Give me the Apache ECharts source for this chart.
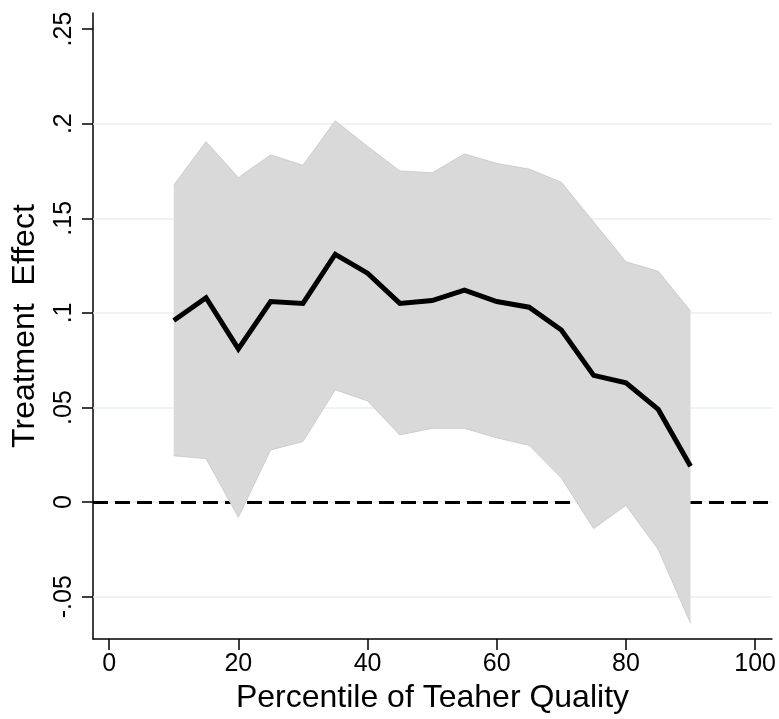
<!DOCTYPE html>
<html>
<head>
<meta charset="utf-8">
<script src="https://cdn.jsdelivr.net/npm/echarts@6/dist/echarts.min.js"></script>
<style>
  html, body { margin: 0; padding: 0; background: #fff; }
  #main { width: 779px; height: 719px; }
</style>
</head>
<body>
<div id="main"></div>
<script>
// percentile points
const xs = [10, 15, 20, 25, 30, 35, 40, 45, 50, 55, 60, 65, 70, 75, 80, 85, 90]
// point estimate
const est = [0.096, 0.108, 0.081, 0.106, 0.105, 0.131, 0.121, 0.105, 0.1065, 0.112, 0.106, 0.103, 0.091, 0.067, 0.063, 0.049, 0.019]
// confidence band
const upper = [0.1675, 0.1905, 0.1715, 0.1835, 0.178, 0.2015, 0.188, 0.175, 0.174, 0.184, 0.179, 0.176, 0.169, 0.148, 0.127, 0.122, 0.101]
const lower = [0.0245, 0.023, -0.008, 0.0276, 0.032, 0.0594, 0.0535, 0.0355, 0.039, 0.039, 0.034, 0.030, 0.0128, -0.014, -0.0017, -0.025, -0.064]
// axis ticks
const xTicks = [0, 20, 40, 60, 80, 100]
const yTicks = [-0.05, 0, 0.05, 0.1, 0.15, 0.2, 0.25]
const yTickLabels = ['-.05', '0', '.05', '.1', '.15', '.2', '.25']
const yGrid = [-0.05, 0, 0.05, 0.1, 0.15, 0.2]

const font = 'Liberation Sans, Arial, sans-serif'

const fmtY = (v) => {
  const i = yTicks.findIndex(t => Math.abs(t - v) < 1e-9)
  return i >= 0 ? yTickLabels[i] : ''
}

const gridLines = yGrid.map(v => ({ yAxis: v }))
// zero reference line, dashed
gridLines.push({
  yAxis: 0,
  lineStyle: { color: '#000', width: 3, type: [15, 7] }
})

// shaded band: polygon through upper points then lower points reversed
const renderBand = (params, api) => {
  if (params.dataIndex !== 0) return null
  const top = xs.map((x, i) => api.coord([x, upper[i]]))
  const bot = xs.map((x, i) => api.coord([x, lower[i]]))
  const poly = top.concat(bot.slice().reverse())
  return {
    type: 'group',
    children: [
      { type: 'polygon', shape: { points: poly }, style: { fill: '#d9d9d9', stroke: null } },
      { type: 'polyline', shape: { points: top }, style: { fill: null, stroke: '#cdcdcd', lineWidth: 1 } },
      { type: 'polyline', shape: { points: bot }, style: { fill: null, stroke: '#cdcdcd', lineWidth: 1 } }
    ]
  }
}

const option = {
  animation: false,
  backgroundColor: '#fff',
  grid: { left: 93, top: 13, right: 7, bottom: 75, containLabel: false },
  xAxis: {
    type: 'value',
    min: -2.5,
    max: 102.6,
    name: 'Percentile of Teaher Quality',
    nameLocation: 'middle',
    nameGap: 38,
    nameTextStyle: { fontFamily: font, fontSize: 32, color: '#000' },
    axisLine: { show: true, onZero: false, lineStyle: { color: '#000', width: 1.5 } },
    axisTick: { show: true, length: 11, lineStyle: { color: '#000', width: 1.5 }, customValues: xTicks },
    axisLabel: { fontFamily: font, fontSize: 25, color: '#000', margin: 13, customValues: xTicks },
    splitLine: { show: false }
  },
  yAxis: {
    type: 'value',
    min: -0.0724,
    max: 0.2585,
    name: 'Treatment  Effect',
    nameLocation: 'middle',
    nameGap: 52,
    nameTextStyle: { fontFamily: font, fontSize: 32, color: '#000' },
    axisLine: { show: true, onZero: false, lineStyle: { color: '#000', width: 1.5 } },
    axisTick: { show: true, length: 11, lineStyle: { color: '#000', width: 1.5 }, customValues: yTicks },
    axisLabel: { fontFamily: font, fontSize: 25, color: '#000', rotate: 90, margin: 16, customValues: yTicks, formatter: fmtY },
    splitLine: { show: false }
  },
  series: [
    {
      // carrier for the grid lines and zero line
      type: 'line',
      data: xs.map((x, i) => [x, est[i]]),
      symbol: 'none',
      lineStyle: { width: 0, opacity: 0 },
      z: 1,
      markLine: {
        z: 1,
        silent: true,
        symbol: 'none',
        label: { show: false },
        lineStyle: { color: '#e8eff1', width: 1.5, type: 'solid' },
        data: gridLines
      }
    },
    {
      type: 'custom',
      renderItem: renderBand,
      data: xs.map((x, i) => [x, lower[i], upper[i]]),
      encode: { x: 0, y: [1, 2] },
      silent: true,
      z: 3
    },
    {
      type: 'line',
      data: xs.map((x, i) => [x, est[i]]),
      symbol: 'none',
      lineStyle: { color: '#000', width: 5, join: 'miter' },
      z: 4
    }
  ]
}

const chart = echarts.init(document.getElementById('main'))
chart.setOption(option)
</script>
</body>
</html>
